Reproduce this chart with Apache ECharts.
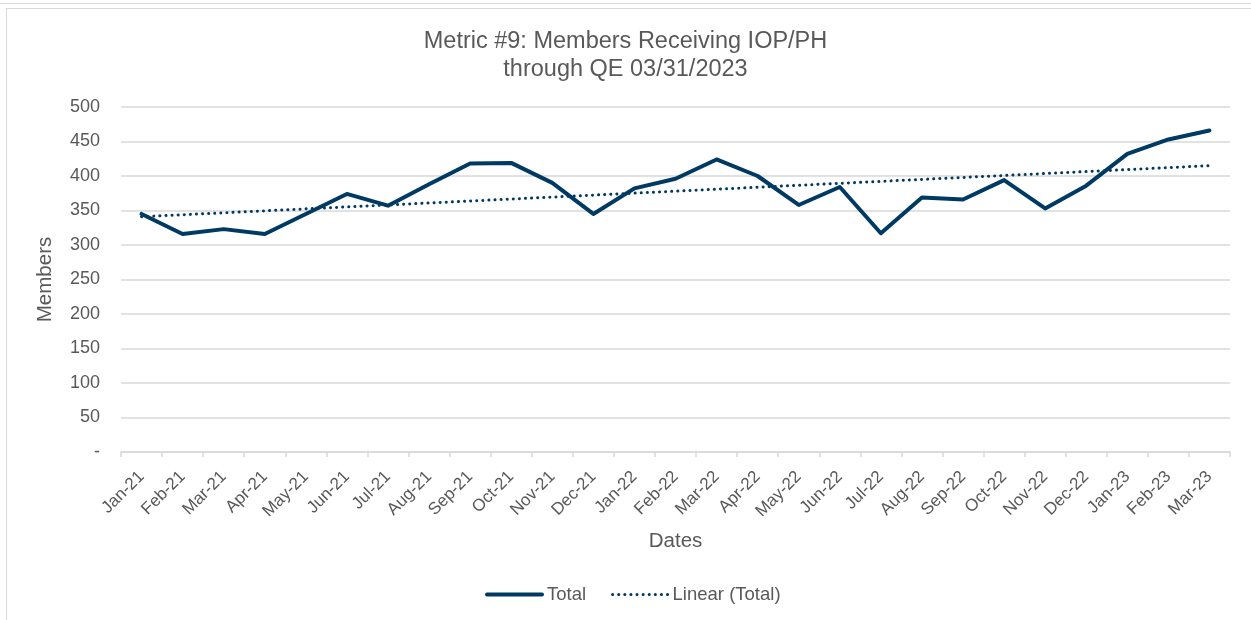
<!DOCTYPE html>
<html>
<head>
<meta charset="utf-8">
<script src="https://cdn.jsdelivr.net/npm/echarts@6/dist/echarts.min.js"></script>
<style>
	html, body { margin: 0; padding: 0; background: #fff; }
	#topline { position: absolute; left: 0; top: 3px; width: 1251px; height: 0; border-top: 1px solid #d9d9d9; }
	#frame { position: absolute; left: 6px; top: 8px; width: 1260px; height: 640px; border: 1px solid #d9d9d9; }
	#main { position: absolute; left: 0; top: 0; width: 1251px; height: 620px; }
</style>
</head>
<body>
<div id="topline"></div>
<div id="frame"></div>
<div id="main"></div>
<script>
	var months = ["Jan-21", "Feb-21", "Mar-21", "Apr-21", "May-21", "Jun-21", "Jul-21", "Aug-21", "Sep-21",
		"Oct-21", "Nov-21", "Dec-21", "Jan-22", "Feb-22", "Mar-22", "Apr-22", "May-22", "Jun-22",
		"Jul-22", "Aug-22", "Sep-22", "Oct-22", "Nov-22", "Dec-22", "Jan-23", "Feb-23", "Mar-23"];
	var total = [345, 316, 323, 316, 345, 374, 357, 388, 418,
		419, 390, 345, 382, 396, 424, 400, 358, 384,
		317, 369, 366, 394, 353, 386, 432, 453, 466];
	// trend line end points (Excel linear trendline)
	var trendStart = 341;
	var trendEnd = 415;
	var yTicks = [0, 50, 100, 150, 200, 250, 300, 350, 400, 450, 500];

	var trend = months.map(function(m, i) {
		if(i == 0) return trendStart;
		if(i == months.length - 1) return trendEnd;
		return null;
	});

	var font = "'Liberation Sans', Arial, sans-serif";
	var grey = "#595959";
	var navy = "#003A63";

	var myChart = echarts.init(document.getElementById("main"), null, { renderer: "canvas" });
	var option = {
		backgroundColor: "transparent",
		title: {
			text: "Metric #9: Members Receiving IOP/PH\nthrough QE 03/31/2023",
			left: "center",
			top: 23,
			textStyle: { fontFamily: font, fontSize: 23.5, fontWeight: "normal", color: grey, lineHeight: 28 }
		},
		legend: {
			top: 580,
			left: 480,
			itemWidth: 55,
			itemHeight: 12,
			itemGap: 25,
			itemStyle: { opacity: 0 },
			textStyle: { fontFamily: font, fontSize: 18.5, color: grey },
			data: [
				{ name: "Total", lineStyle: { width: 4, cap: "round" } },
				{ name: "Linear (Total)", lineStyle: { width: 3, cap: "round" } }
			]
		},
		grid: { left: 121, right: 21, top: 107, bottom: 168 },
		xAxis: {
			type: "category",
			data: months,
			boundaryGap: true,
			name: "Dates",
			nameLocation: "middle",
			nameGap: 79,
			nameTextStyle: { fontFamily: font, fontSize: 20.5, color: grey },
			axisLine: { lineStyle: { color: "#d9d9d9", width: 1.5 } },
			axisTick: { show: true, length: 5, lineStyle: { color: "#d9d9d9", width: 1.5 } },
			axisLabel: { rotate: 45, interval: 0, margin: 22, fontFamily: font, fontSize: 17, color: grey }
		},
		yAxis: {
			type: "value",
			min: yTicks[0],
			max: yTicks[yTicks.length - 1],
			interval: 50,
			name: "Members",
			nameLocation: "middle",
			nameGap: 65,
			nameRotate: 90,
			nameTextStyle: { fontFamily: font, fontSize: 20.5, color: grey },
			axisLine: { show: false },
			axisTick: { show: false },
			splitLine: { lineStyle: { color: "#d9d9d9", width: 1.5 } },
			axisLabel: {
				margin: 21,
				fontFamily: font,
				fontSize: 18,
				color: grey,
				formatter: function(v) { return v == 0 ? "-" : String(v); }
			}
		},
		series: [{
			name: "Total",
			type: "line",
			data: total,
			symbol: "none",
			lineStyle: { color: navy, width: 4, cap: "round", join: "round" },
			itemStyle: { color: navy },
			z: 3
		}, {
			name: "Linear (Total)",
			type: "line",
			data: trend,
			connectNulls: true,
			symbol: "none",
			lineStyle: { color: navy, width: 3, type: [0.1, 6], cap: "round" },
			itemStyle: { color: navy },
			z: 2
		}]
	};
	myChart.setOption(option);
</script>
</body>
</html>
